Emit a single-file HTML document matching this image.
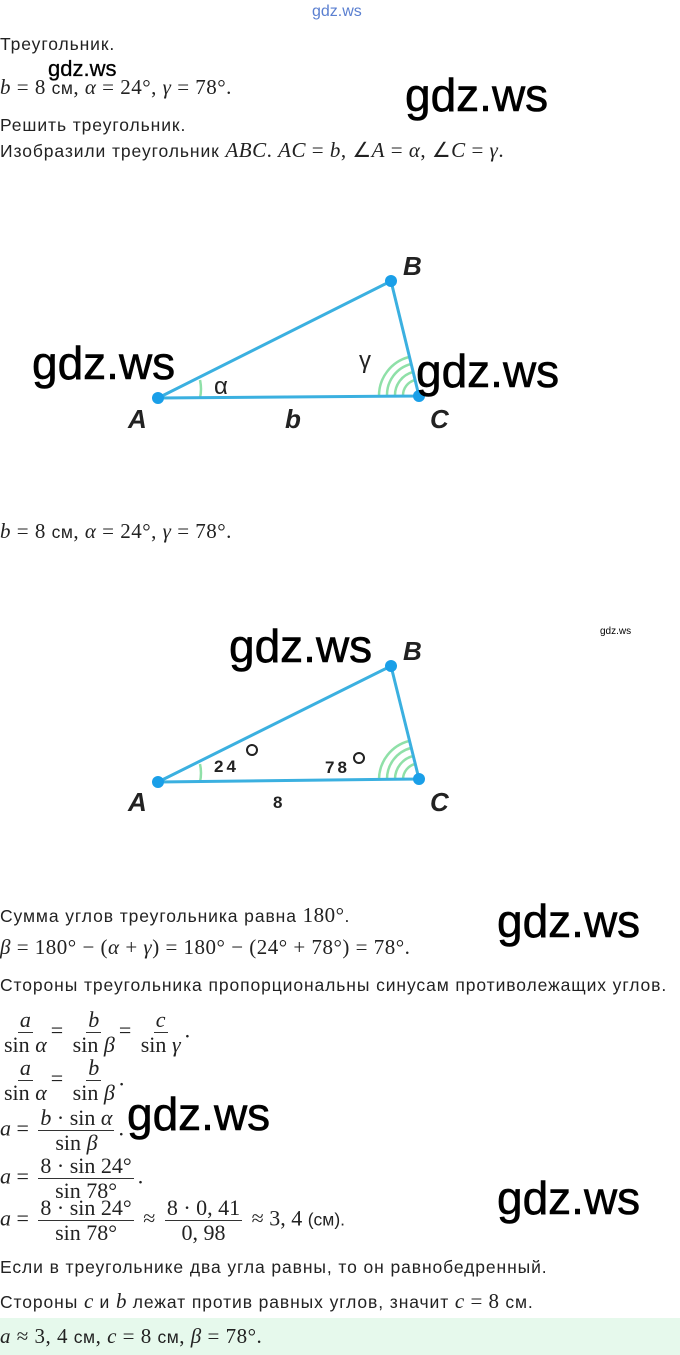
<!DOCTYPE html>
<html><head><meta charset="utf-8"><style>
body{margin:0;width:680px;height:1355px;background:#fff;position:relative;overflow:hidden;font-family:"Liberation Sans",sans-serif;color:#222}
.t{position:absolute;white-space:nowrap;font-size:17.5px;letter-spacing:0.9px;line-height:20px}
.m{font-family:"Liberation Serif",serif;font-size:21px;letter-spacing:0.5px}
.i{font-style:italic}
.w{position:absolute;white-space:nowrap;font-family:"Liberation Sans",sans-serif;font-size:46px;color:#000;line-height:50px;letter-spacing:0;-webkit-text-stroke:0.6px #000}
.fr{display:inline-flex;flex-direction:column;align-items:center;vertical-align:middle;font-family:"Liberation Serif",serif;font-size:22px;line-height:24px;margin:0 4px}
.fr span:first-child{border-bottom:1px solid #333;padding:0 2px}
.row{position:absolute;left:0;white-space:nowrap;font-family:"Liberation Serif",serif;font-size:22px;letter-spacing:0;word-spacing:0}
.cm{font-family:"Liberation Sans",sans-serif;font-size:17.5px;font-style:normal}
</style></head><body>
<div class="t" style="left:312px;top:2px;color:#5a7fd0;font-size:16px;letter-spacing:0">gdz.ws</div>
<div class="t" style="left:0;top:34px">Треугольник.</div>
<div class="t m" style="left:0;top:77px"><i>b</i> = 8 <span class="cm">см</span>, <i>α</i> = 24°, <i>γ</i> = 78°.</div>
<div class="w" style="left:48px;top:56px;font-size:22px;line-height:26px;-webkit-text-stroke:0.3px #000">gdz.ws</div>
<div class="w" style="left:405px;top:70px">gdz.ws</div>
<div class="t" style="left:0;top:115px">Решить треугольник.</div>
<div class="t" style="left:0;top:140px">Изобразили треугольник <span class="m i">ABC</span><span class="m">. <i>AC</i> = <i>b</i>, ∠<i>A</i> = <i>α</i>, ∠<i>C</i> = <i>γ</i>.</span></div>

<svg style="position:absolute;left:0;top:0" width="680" height="1355">
<g fill="none" stroke="#8fe0a8" stroke-width="2.5">
<path d="M200,380 A42,42 0 0 1 200,398"/>
<path d="M379,396 A40,40 0 0 1 409,357"/>
<path d="M387,396 A32,32 0 0 1 411,364"/>
<path d="M395,396 A24,24 0 0 1 413,372"/>
<path d="M403,396 A16,16 0 0 1 415,380"/>
<path d="M200,764 A42,42 0 0 1 200,782"/>
<path d="M379,779 A40,40 0 0 1 409,741"/>
<path d="M387,779 A32,32 0 0 1 411,748"/>
<path d="M395,779 A24,24 0 0 1 413,756"/>
<path d="M403,779 A16,16 0 0 1 415,764"/>
</g>
<g stroke="#3bb0e0" stroke-width="3" fill="none">
<path d="M158,398 L391,281 L419,396 Z"/>
<path d="M158,782 L391,666 L419,779 Z"/>
</g>
<g fill="#1a9fe8">
<circle cx="158" cy="398" r="6"/><circle cx="391" cy="281" r="6"/><circle cx="419" cy="396" r="6"/>
<circle cx="158" cy="782" r="6"/><circle cx="391" cy="666" r="6"/><circle cx="419" cy="779" r="6"/>
</g>
<g font-family="Liberation Sans" font-style="italic" font-weight="bold" font-size="26" fill="#222">
<text x="403" y="275">B</text><text x="128" y="428">A</text><text x="430" y="428">C</text><text x="285" y="428">b</text>
<text x="403" y="660">B</text><text x="128" y="811">A</text><text x="430" y="811">C</text>
</g>
<g font-family="Liberation Sans" font-size="24" fill="#222">
<text x="214" y="394">α</text><text x="359" y="368">γ</text>
</g>
<g font-family="Liberation Sans" font-size="17" font-weight="bold" fill="#222">
<text x="214" y="772" letter-spacing="3">24</text><text x="325" y="773" letter-spacing="3">78</text><text x="273" y="808">8</text>
</g>
<g fill="none" stroke="#222" stroke-width="2"><circle cx="252" cy="750" r="5"/><circle cx="359" cy="758" r="5"/></g>
</svg>
<div class="w" style="left:32px;top:338px">gdz.ws</div>
<div class="w" style="left:416px;top:346px">gdz.ws</div>

<div class="t m" style="left:0;top:521px"><i>b</i> = 8 <span class="cm">см</span>, <i>α</i> = 24°, <i>γ</i> = 78°.</div>
<div class="w" style="left:229px;top:621px">gdz.ws</div>
<div class="t" style="left:600px;top:622px;font-size:10px;letter-spacing:0;color:#000">gdz.ws</div>

<div class="t" style="left:0;top:905px">Сумма углов треугольника равна <span class="m">180°</span>.</div>
<div class="w" style="left:497px;top:896px">gdz.ws</div>
<div class="t m" style="left:0;top:937px"><i>β</i> = 180° − (<i>α</i> + <i>γ</i>) = 180° − (24° + 78°) = 78°.</div>
<div class="t" style="left:0;top:975px">Стороны треугольника пропорциональны синусам противолежащих углов.</div>

<div class="row" style="top:1008px"><span class="fr"><span class="i">a</span><span>sin <i>α</i></span></span>= <span class="fr"><span class="i">b</span><span>sin <i>β</i></span></span>= <span class="fr"><span class="i">c</span><span>sin <i>γ</i></span></span>.</div>
<div class="row" style="top:1056px"><span class="fr"><span class="i">a</span><span>sin <i>α</i></span></span>= <span class="fr"><span class="i">b</span><span>sin <i>β</i></span></span>.</div>
<div class="row" style="top:1106px"><i>a</i> = <span class="fr"><span><i>b</i> · sin <i>α</i></span><span>sin <i>β</i></span></span>.</div>
<div class="row" style="top:1154px"><i>a</i> = <span class="fr"><span>8 · sin 24°</span><span>sin 78°</span></span>.</div>
<div class="row" style="top:1196px"><i>a</i> = <span class="fr"><span>8 · sin 24°</span><span>sin 78°</span></span> ≈ <span class="fr"><span>8 · 0, 41</span><span>0, 98</span></span> ≈ 3, 4 <span class="cm">(см).</span></div>
<div class="w" style="left:127px;top:1089px">gdz.ws</div>
<div class="w" style="left:497px;top:1173px">gdz.ws</div>

<div class="t" style="left:0;top:1257px">Если в треугольнике два угла равны, то он равнобедренный.</div>
<div class="t" style="left:0;top:1291px">Стороны <span class="m i">c</span> и <span class="m i">b</span> лежат против равных углов, значит <span class="m"><i>c</i> = 8</span> см.</div>
<div style="position:absolute;left:0;top:1318px;width:680px;height:37px;background:#e6f9ec"></div>
<div class="t m" style="left:0;top:1326px"><i>a</i> ≈ 3, 4 <span class="cm">см</span>, <i>c</i> = 8 <span class="cm">см</span>, <i>β</i> = 78°.</div>
</body></html>
